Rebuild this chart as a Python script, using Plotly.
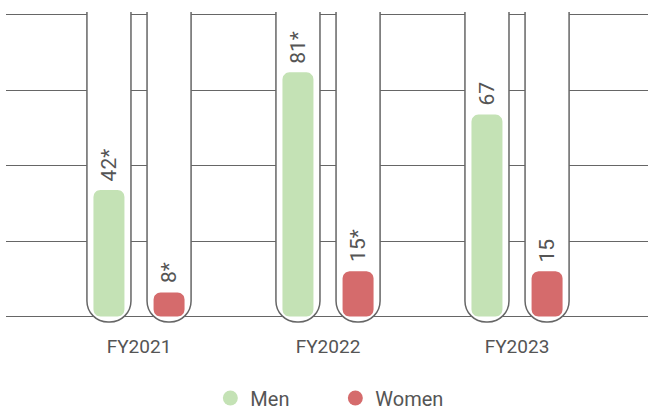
import math
import plotly.graph_objects as go

# Data
years = ["FY2021", "FY2022", "FY2023"]
men = [42, 81, 67]
women = [8, 15, 15]
men_labels = ["42*", "81*", "67"]
women_labels = ["8*", "15*", "15"]

MEN_COLOR = "#c4e2b5"
WOMEN_COLOR = "#d56b6c"
TEXT_COLOR = "#555555"
LINE_COLOR = "#666666"
FONT = "Roboto, 'Open Sans', sans-serif"

# Figure / plot-area geometry
W, H = 648, 410
M_L, M_R, M_T, M_B = 6, 0, 12, 80
X_RANGE = [-0.7037, 2.693]
Y_RANGE = [-4.44, 100.99]
PX_X = (W - M_L - M_R) / (X_RANGE[1] - X_RANGE[0])   # px per category unit
PX_Y = (H - M_T - M_B) / (Y_RANGE[1] - Y_RANGE[0])   # px per value unit

TUBE_TOP = 120          # beyond the visible range, clipped by the plot area
TUBE_BOTTOM = -1.8      # tube ends a little below the baseline
TUBE_W = 0.233
BAR_W = 0.164
SHIFT = 0.159           # distance of each series from the category centre
BAR_RADIUS_PX = 7

xpos = list(range(len(years)))

fig = go.Figure()


def rounded_rect(x0, x1, y0, y1, r_px, n=8):
    """Outline of a rectangle with all four corners rounded by r_px pixels."""
    rx = min(r_px / PX_X, (x1 - x0) / 2)
    ry = min(r_px / PX_Y, (y1 - y0) / 2)
    corners = [
        (x1 - rx, y1 - ry, 0.0),            # top-right
        (x0 + rx, y1 - ry, math.pi / 2),    # top-left
        (x0 + rx, y0 + ry, math.pi),        # bottom-left
        (x1 - rx, y0 + ry, 1.5 * math.pi),  # bottom-right
    ]
    xs, ys = [], []
    for cx, cy, a0 in corners:
        for k in range(n + 1):
            a = a0 + (math.pi / 2) * k / n
            xs.append(cx + rx * math.cos(a))
            ys.append(cy + ry * math.sin(a))
    xs.append(xs[0])
    ys.append(ys[0])
    return xs, ys


def add_series(values, labels, color, centre):
    # rounded-bottom "tube" behind each bar
    fig.add_trace(go.Bar(
        x=xpos, y=[TUBE_BOTTOM - TUBE_TOP] * len(values), base=[TUBE_TOP] * len(values),
        width=TUBE_W, offset=centre - TUBE_W / 2,
        marker=dict(color="white", line=dict(color=LINE_COLOR, width=1.5), cornerradius="48%"),
        showlegend=False, hoverinfo="skip",
    ))
    # the bars themselves, rounded at both ends
    bx, by = [], []
    for xi, v in zip(xpos, values):
        c = xi + centre
        px, py = rounded_rect(c - BAR_W / 2, c + BAR_W / 2, 0, v, BAR_RADIUS_PX)
        bx += px + [None]
        by += py + [None]
    fig.add_trace(go.Scatter(
        x=bx, y=by, mode="lines", fill="toself", fillcolor=color,
        line=dict(width=0, color=color), showlegend=False, hoverinfo="skip",
    ))
    # value labels, rotated, just above each bar
    for xi, v, lab in zip(xpos, values, labels):
        fig.add_annotation(
            x=xi + centre, y=v, text=lab, textangle=-90,
            xanchor="center", yanchor="bottom", yshift=7, showarrow=False,
            font=dict(family=FONT, size=21, color=TEXT_COLOR),
        )


add_series(men, men_labels, MEN_COLOR, -SHIFT)
add_series(women, women_labels, WOMEN_COLOR, SHIFT)

# legend entries drawn as circles
for name, color in [("Men", MEN_COLOR), ("Women", WOMEN_COLOR)]:
    fig.add_trace(go.Scatter(
        x=[None], y=[None], mode="markers", name=name,
        marker=dict(symbol="circle", size=15, color=color),
    ))

fig.update_layout(
    width=W, height=H,
    margin=dict(l=M_L, r=M_R, t=M_T, b=M_B, autoexpand=False),
    paper_bgcolor="white", plot_bgcolor="white",
    barmode="overlay",
    font=dict(family=FONT, color=TEXT_COLOR),
    xaxis=dict(
        range=X_RANGE, tickvals=xpos, ticktext=years,
        showgrid=False, zeroline=False, showline=False, ticks="",
        ticklabelstandoff=3,
        tickfont=dict(family=FONT, size=19, color=TEXT_COLOR),
        fixedrange=True,
    ),
    yaxis=dict(
        range=Y_RANGE, dtick=25, tick0=0,
        showgrid=True, gridcolor=LINE_COLOR, gridwidth=1,
        zeroline=False, showline=False, showticklabels=False, ticks="",
        fixedrange=True,
    ),
    legend=dict(
        orientation="h", x=0.513, xanchor="center", y=-0.2138, yanchor="middle",
        font=dict(family=FONT, size=20, color=TEXT_COLOR),
        entrywidth=80, entrywidthmode="pixels",
        bgcolor="rgba(0,0,0,0)",
    ),
    showlegend=True,
)

fig.write_html("out.html")
